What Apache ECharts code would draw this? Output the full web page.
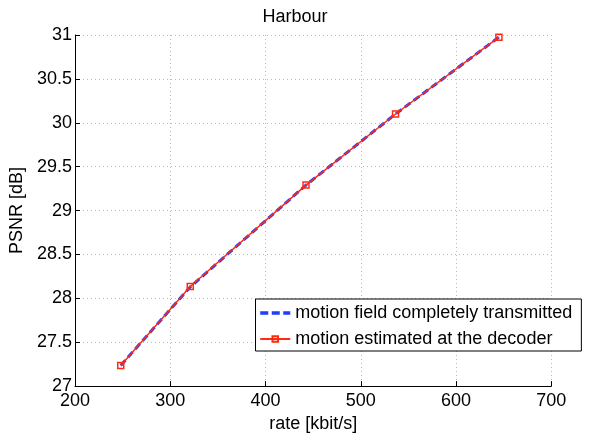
<!DOCTYPE html>
<html>
<head>
<meta charset="utf-8">
<script src="https://cdn.jsdelivr.net/npm/echarts@6/dist/echarts.min.js"></script>
<style>
html,body{margin:0;padding:0;background:#fff;}
#chart{width:590px;height:438px;}
</style>
</head>
<body>
<div id="chart"></div>
<script>
var titleText = 'Harbour';
var xName = 'rate [kbit/s]';
var yName = 'PSNR [dB]';
var seriesNames = ['motion field completely transmitted', 'motion estimated at the decoder'];
var rateTransmitted = [248, 321, 442.5, 536.5, 645];
var psnrTransmitted = [27.235, 28.13, 29.29, 30.10, 30.975];
var rateEstimated = [248, 321, 442.5, 536.5, 645];
var psnrEstimated = [27.235, 28.135, 29.29, 30.10, 30.975];
var xMin = 200, xMax = 700, xStep = 100;
var yMin = 27, yMax = 31, yStep = 0.5;

function pairs(xs, ys){ return xs.map(function(x,i){ return [x, ys[i]]; }); }

var font = 'Liberation Sans, Arial, Helvetica, sans-serif';
var blue = '#1f3dff', red = '#ff2a10';
var chart = echarts.init(document.getElementById('chart'), null, {renderer:'canvas'});
chart.setOption({
  animation: false,
  backgroundColor: '#fff',
  textStyle: {fontFamily: font, color: '#000'},
  title: {
    text: titleText, left: 'center', top: 3,
    textStyle: {fontFamily: font, fontSize: 18, fontWeight: 'normal', color: '#000'}
  },
  grid: {left: 75, right: 38.7, top: 35, bottom: 44.7, containLabel: false},
  legend: {
    orient: 'vertical', left: 255.5, top: 299,
    padding: [5, 9, 3, 3],
    itemGap: 8, itemWidth: 30, itemHeight: 7,
    backgroundColor: '#fff', borderColor: '#000', borderWidth: 1,
    textStyle: {fontFamily: font, fontSize: 18, color: '#000'},
    data: [
      {name: seriesNames[0], itemStyle: {opacity: 0}, lineStyle: {color: blue, width: 3.5, type: [8, 3.5]}},
      {name: seriesNames[1]}
    ]
  },
  xAxis: {
    type: 'value', min: xMin, max: xMax, interval: xStep,
    name: xName, nameLocation: 'middle', nameGap: 23,
    nameTextStyle: {fontFamily: font, fontSize: 18, color: '#000'},
    axisLine: {show: true, onZero: false, lineStyle: {color: '#000', width: 1}},
    axisTick: {show: true, inside: true, length: 5, lineStyle: {color: '#000'}},
    axisLabel: {fontFamily: font, fontSize: 18, color: '#000', margin: 6},
    splitLine: {show: true, lineStyle: {color: '#b8b8b8', type: [1, 3], width: 1}}
  },
  yAxis: {
    type: 'value', min: yMin, max: yMax, interval: yStep,
    name: yName, nameLocation: 'middle', nameGap: 43,
    nameTextStyle: {fontFamily: font, fontSize: 18, color: '#000'},
    axisLine: {show: true, onZero: false, lineStyle: {color: '#000', width: 1}},
    axisTick: {show: true, inside: true, length: 5, lineStyle: {color: '#000'}},
    axisLabel: {fontFamily: font, fontSize: 18, color: '#000', margin: 3},
    splitLine: {show: true, lineStyle: {color: '#b8b8b8', type: [1, 3], width: 1}}
  },
  series: [
    {
      name: seriesNames[0], type: 'line',
      data: pairs(rateTransmitted, psnrTransmitted),
      showSymbol: false, symbol: 'none',
      lineStyle: {color: blue, width: 3, type: [7, 4]},
      itemStyle: {color: blue},
      z: 2
    },
    {
      name: seriesNames[1], type: 'line',
      data: pairs(rateEstimated, psnrEstimated),
      symbol: 'rect', symbolSize: 6,
      lineStyle: {color: red, width: 1.5},
      itemStyle: {color: 'rgba(255,255,255,0)', borderColor: red, borderWidth: 1.5},
      z: 3
    }
  ]
});
</script>
</body>
</html>
